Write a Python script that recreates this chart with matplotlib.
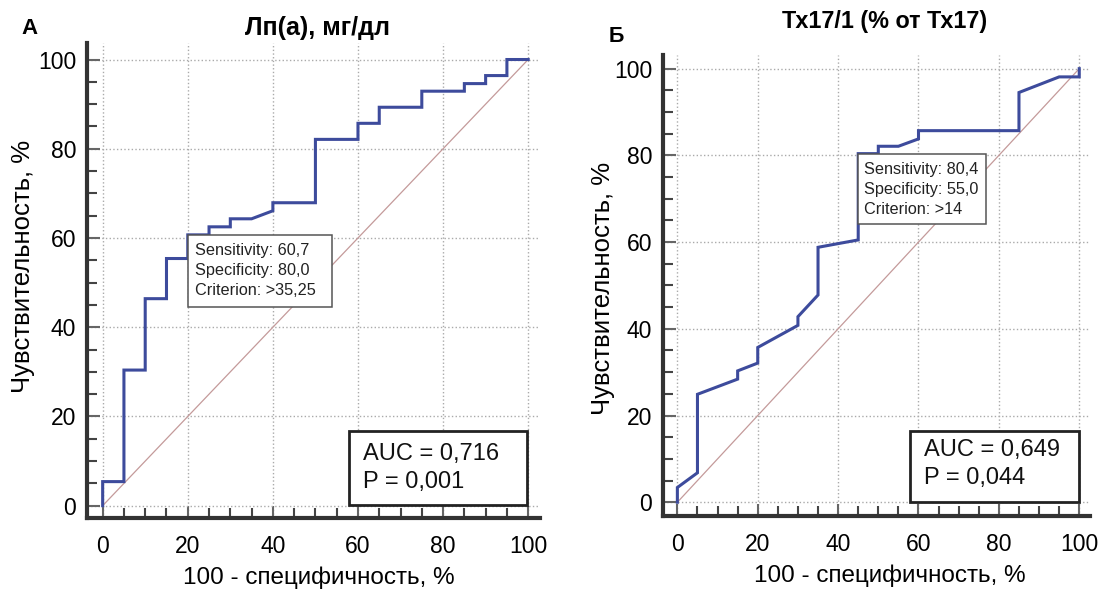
import matplotlib
matplotlib.use("Agg")
import matplotlib.pyplot as plt
from matplotlib.patches import Rectangle
from matplotlib.ticker import MultipleLocator

plt.rcParams['font.family'] = ['Liberation Sans', 'DejaVu Sans']

# ---- data ----
titles = ["Лп(а), мг/дл", "Тх17/1 (% от Тх17)"]
panel_labels = ["А", "Б"]
xlabel = "100 - специфичность, %"
ylabel = "Чувствительность, %"

fpr_a = [0, 0, 5, 5, 10, 10, 15, 15, 20, 20, 25, 25, 30, 30, 35, 40, 40, 50, 50,
         60, 60, 65, 65, 75, 75, 85, 85, 90, 90, 95, 95, 100]
tpr_a = [0, 5.4, 5.4, 30.4, 30.4, 46.4, 46.4, 55.4, 55.4, 60.7, 60.7, 62.5, 62.5,
         64.3, 64.3, 66.1, 67.9, 67.9, 82.1, 82.1, 85.7, 85.7, 89.3, 89.3, 92.9,
         92.9, 94.6, 94.6, 96.4, 96.4, 100, 100]

fpr_b = [0, 0, 5, 5, 15, 15, 20, 20, 30, 30, 35, 35, 45, 45, 50, 50, 55, 60, 60,
         85, 85, 95, 100, 100]
tpr_b = [0, 3.4, 6.8, 24.9, 28.4, 30.3, 32.1, 35.7, 40.8, 42.8, 47.8, 58.8, 60.5,
         80.4, 80.4, 82.1, 82.1, 83.8, 85.7, 85.7, 94.5, 98.1, 98.1, 100]

crit_lines_a = ["Sensitivity: 60,7", "Specificity: 80,0", "Criterion: >35,25"]
crit_lines_b = ["Sensitivity: 80,4", "Specificity: 55,0", "Criterion: >14"]
auc_lines_a = ["AUC = 0,716", "P = 0,001"]
auc_lines_b = ["AUC = 0,649", "P = 0,044"]

fig = plt.figure(figsize=(11, 5.89), dpi=100)

# layout (figure fractions)
ax_a = fig.add_axes([0.0794, 0.1205, 0.4116, 0.8065])
ax_b = fig.add_axes([0.603, 0.124, 0.388, 0.783])

curve_color = '#3d4b9c'
diag_color = '#c49a9a'
spine_color = '#333333'


def style(ax, xlim, ylim):
    ax.set_xlim(*xlim)
    ax.set_ylim(*ylim)
    for s in ['top', 'right']:
        ax.spines[s].set_visible(False)
    for s in ['left', 'bottom']:
        ax.spines[s].set_linewidth(3)
        ax.spines[s].set_color(spine_color)
    ax.xaxis.set_major_locator(MultipleLocator(20))
    ax.yaxis.set_major_locator(MultipleLocator(20))
    ax.xaxis.set_minor_locator(MultipleLocator(5))
    ax.yaxis.set_minor_locator(MultipleLocator(5))
    ax.tick_params(which='major', direction='in', length=9, width=1.5,
                   color='#666666', labelsize=16.5, pad=12)
    ax.tick_params(which='minor', direction='in', length=7, width=1.5,
                   color='#444444')
    ax.tick_params(axis='y', which='major', pad=8)
    ax.grid(True, which='major', linestyle=':', color='#aaaaaa', linewidth=1)
    ax.set_axisbelow(True)


def draw(ax, fpr, tpr, crit_box, crit_xy, crit_lines, crit_dy,
         auc_box, auc_x, auc_ys, auc_lines):
    ax.plot([0, 100], [0, 100], color=diag_color, linewidth=0.9, zorder=2)
    ax.plot(fpr, tpr, color=curve_color, linewidth=2.2, zorder=3,
            solid_joinstyle='miter')
    # criterion box
    x0, y0, x1, y1 = crit_box
    ax.add_patch(Rectangle((x0, y0), x1 - x0, y1 - y0, facecolor='white',
                           edgecolor='#555555', linewidth=1.1, zorder=4))
    for i, line in enumerate(crit_lines):
        ax.text(crit_xy[0], crit_xy[1] - i * crit_dy, line, fontsize=11.7,
                ha='left', va='center', color='#222222', zorder=5)
    # AUC box
    x0, y0, x1, y1 = auc_box
    ax.add_patch(Rectangle((x0, y0), x1 - x0, y1 - y0, facecolor='white',
                           edgecolor='#222222', linewidth=2, zorder=4))
    for line, yy in zip(auc_lines, auc_ys):
        ax.text(auc_x, yy, line, fontsize=17, ha='left', va='center',
                color='#111111', zorder=5)


style(ax_a, (-3.6, 102.8), (-2.76, 103.7))
style(ax_b, (-3.5, 102.7), (-3.16, 103.2))

draw(ax_a, fpr_a, tpr_a, (20, 44.6, 53.9, 60.7), (21.7, 57.3), crit_lines_a, 4.5,
     (57.8, 0.15, 99.8, 16.8), 61.2, (11.7, 5.4), auc_lines_a)
draw(ax_b, fpr_b, tpr_b, (45, 64.2, 76.8, 80.3), (46.4, 76.8), crit_lines_b, 4.6,
     (57.8, 0.0, 100, 16.5), 61.4, (12.1, 5.5), auc_lines_b)

for title, tx, ty, fs in [(titles[0], 0.289, 0.953, 18), (titles[1], 0.804, 0.963, 16.8)]:
    fig.text(tx, ty, title, fontsize=fs, fontweight='bold', ha='center', va='center')

fig.text(0.027, 0.951, panel_labels[0], fontsize=16, fontweight='bold', ha='center', va='center')
fig.text(0.560, 0.938, panel_labels[1], fontsize=15.5, fontweight='bold', ha='center', va='center')

fig.text(0.290, 0.019, xlabel, fontsize=17.5, ha='center', va='center')
fig.text(0.809, 0.023, xlabel, fontsize=17.5, ha='center', va='center')
fig.text(0.021, 0.547, ylabel, fontsize=18.5, ha='center', va='center', rotation=90)
fig.text(0.548, 0.511, ylabel, fontsize=18.5, ha='center', va='center', rotation=90)

fig.savefig("out.png", dpi=100)
